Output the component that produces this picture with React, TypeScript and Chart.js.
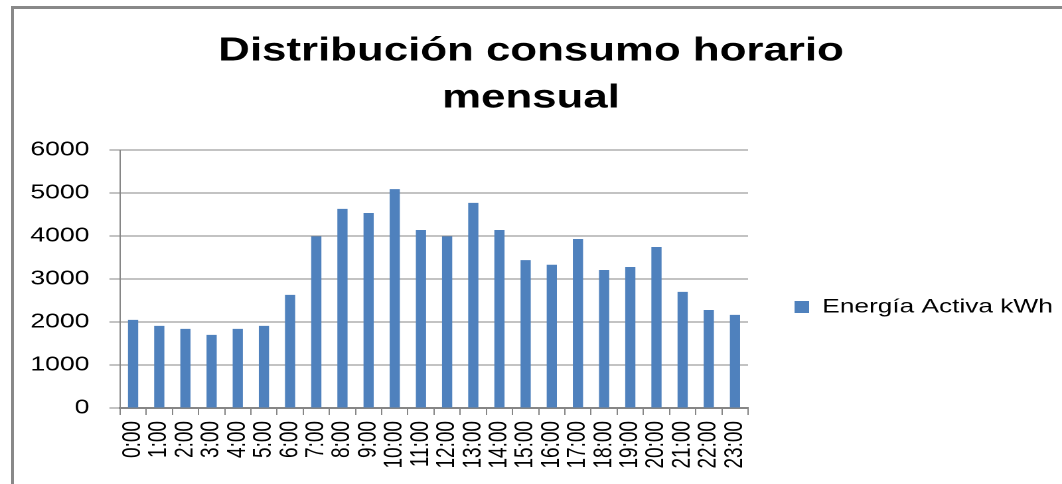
import React, { useEffect, useRef } from "react";
import { Chart, registerables } from "chart.js";

Chart.register(...registerables);

const hours = [
  "0:00", "1:00", "2:00", "3:00", "4:00", "5:00", "6:00", "7:00",
  "8:00", "9:00", "10:00", "11:00", "12:00", "13:00", "14:00", "15:00",
  "16:00", "17:00", "18:00", "19:00", "20:00", "21:00", "22:00", "23:00",
];
const energia = [
  2050, 1910, 1840, 1700, 1840, 1910, 2630, 3990,
  4630, 4535, 5090, 4140, 3990, 4770, 4140, 3440,
  3330, 3930, 3210, 3280, 3745, 2700, 2280, 2165,
];
const seriesLabel = "Energía Activa kWh";
const titleLines = ["Distribución consumo horario", "mensual"];
const yMin = 0;
const yMax = 6000;
const yStep = 1000;

const W0 = 800;
const H0 = 484;
const SX = 1062 / W0;
const FONT = "'Liberation Sans', Arial, sans-serif";
const GRID = "#868686";

export default function App() {
  const ref = useRef<HTMLCanvasElement | null>(null);

  useEffect(() => {
    if (!ref.current) return;
    const chart = new Chart(ref.current, {
      type: "bar",
      data: {
        labels: hours,
        datasets: [
          {
            label: seriesLabel,
            data: energia,
            backgroundColor: "#4F81BD",
            borderWidth: 0,
            barPercentage: 0.39,
            categoryPercentage: 1,
          },
        ],
      },
      options: {
        responsive: false,
        animation: false,
        devicePixelRatio: 2,
        layout: { padding: { left: 0, right: 0, top: 0, bottom: 0 } },
        plugins: {
          tooltip: { enabled: false },
          title: {
            display: true,
            text: titleLines,
            color: "#000",
            font: { family: FONT, size: 33, weight: "bold", lineHeight: 1.424 },
            padding: { top: 28, bottom: 28 },
          },
          legend: {
            display: true,
            position: "right",
            align: "center",
            maxWidth: 236.5,
            title: {
              display: true,
              text: " ",
              font: { size: 10, lineHeight: 1 },
              padding: { top: 0, bottom: 120 },
            },
            labels: {
              boxWidth: 11,
              boxHeight: 12,
              padding: 35,
              color: "#000",
              font: { family: FONT, size: 19.8 },
            },
          },
        },
        scales: {
          x: {
            offset: true,
            grid: {
              offset: true,
              drawOnChartArea: false,
              drawTicks: true,
              tickLength: 7,
              color: GRID,
              lineWidth: 1,
            },
            border: { display: true, color: GRID, width: 2 },
            ticks: {
              autoSkip: false,
              minRotation: 90,
              maxRotation: 90,
              padding: 6,
              color: "#000",
              font: { family: FONT, size: 19 },
            },
            afterFit: (scale: any) => {
              scale.height = 76;
            },
          },
          y: {
            min: yMin,
            max: yMax,
            ticks: {
              stepSize: yStep,
              padding: 15,
              color: "#000",
              font: { family: FONT, size: 20 },
              callback: (v: any) => String(v),
            },
            grid: {
              color: GRID,
              lineWidth: 1,
              tickLength: 8,
              drawTicks: true,
            },
            border: { display: true, color: GRID, width: 1 },
            afterFit: (scale: any) => {
              scale.width = 90.4;
            },
          },
        },
      },
    });
    return () => chart.destroy();
  }, []);

  return (
    <div
      style={{
        position: "fixed",
        left: 0,
        top: 0,
        width: 1062,
        height: 484,
        overflow: "hidden",
        background: "#fff",
      }}
    >
      <div
        style={{
          position: "absolute",
          left: 11,
          top: 6,
          width: 1100,
          height: 520,
          borderLeft: "3px solid #898989",
          borderTop: "3px solid #898989",
        }}
      />
      <canvas
        ref={ref}
        width={W0}
        height={H0}
        style={{
          position: "absolute",
          left: 0,
          top: 0,
          width: W0,
          height: H0,
          transform: `scaleX(${SX})`,
          transformOrigin: "0 0",
        }}
      />
    </div>
  );
}
